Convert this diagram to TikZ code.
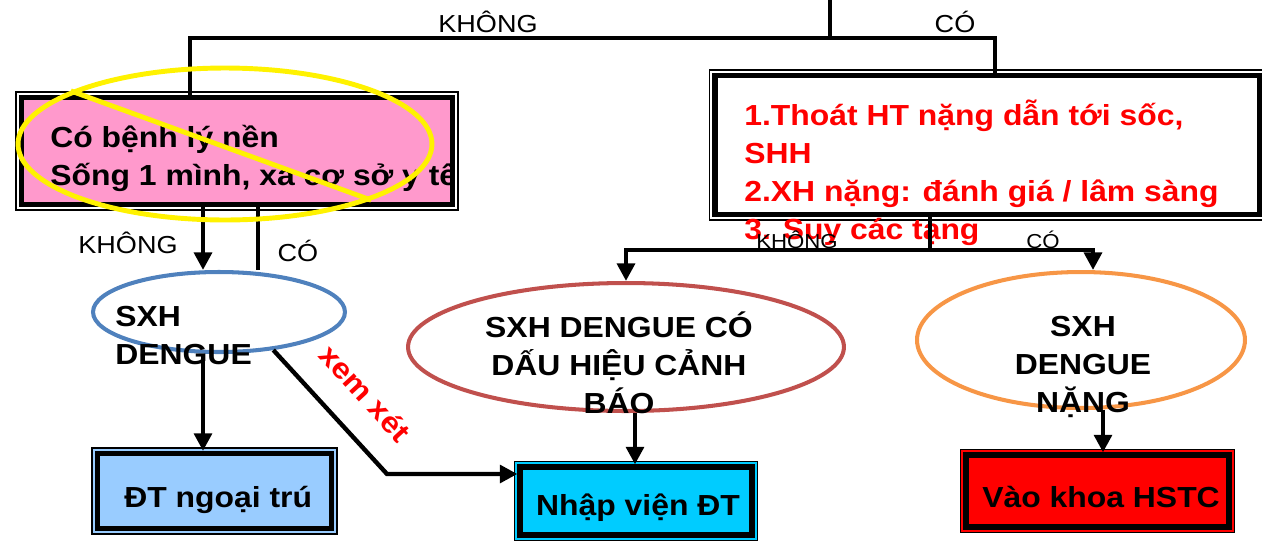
\documentclass[tikz,border=0pt]{standalone}
\usepackage{fontspec}
\setmainfont{Liberation Sans}[FakeStretch=1.10]
\usepackage{xcolor}
\usetikzlibrary{shapes.geometric,arrows.meta,positioning}

\definecolor{pinkfill}{RGB}{255,153,204}
\definecolor{skyfill}{RGB}{153,204,255}
\definecolor{cyanfill}{RGB}{0,204,255}
\definecolor{steel}{RGB}{79,129,189}
\definecolor{brick}{RGB}{192,80,77}
\definecolor{amber}{RGB}{247,150,70}

\begin{document}
\begin{tikzpicture}[x=0.02cm, y=-0.02cm,
  every node/.style={inner sep=0pt},
  big/.style={font=\fontsize{16.5}{21.5}\selectfont\bfseries},
  lbl/.style={font=\fontsize{14}{16}\selectfont},
  slbl/.style={font=\fontsize{11.5}{13}\selectfont},
  frame/.style={rectangle, draw=black, line width=3pt,
                preaction={draw=black, line width=6.9pt},
                preaction={draw=#1, line width=5.2pt}},   % thin outer rule + gap
  frame/.default=white,
  oval/.style={ellipse, draw=#1, line width=2.3pt},
  wire/.style={line width=2.5pt, black},
  arrow/.style={wire, -{Triangle[length=10pt,width=10pt]}},
]
\useasboundingbox (0,0) rectangle (1262,542);
\clip (0,0) rectangle (1262,542);

%% ── first split: risk factors / warning signs ───────────────────────
\node[frame, fill=pinkfill, minimum width=8.62cm, minimum height=2.14cm] (risk) at (237,151) {};
\node[frame, fill=white, minimum width=10.9cm, minimum height=2.79cm] (warn) at (987.5,145) {};

% multi-line texts: base = baseline of the last line
\begin{scope}
  \clip ([shift={(1.5pt,1.5pt)}]risk.south west) rectangle ([shift={(-1.5pt,-1.5pt)}]risk.north east);
  \node[big, anchor=base west, align=left] (riskText) at (50,185)
    {Có bệnh lý nền\\Sống 1 mình, xa cơ sở y tế};
\end{scope}
\node[big, red, anchor=base west, align=left] (warnText) at (744,239)
  {1.Thoát HT nặng dẫn tới sốc,\\SHH\\2.XH nặng: đánh giá / lâm sàng\\3. Suy các tạng};

%% ── diagnoses ───────────────────────────────────────────────────────
\node[oval=steel, minimum width=5.04cm, minimum height=1.6cm] (dengue) at (219,312) {};
\node[oval=brick, minimum width=8.72cm, minimum height=2.56cm] (warnsign) at (626,347) {};
\node[oval=amber, minimum width=6.56cm, minimum height=2.72cm] (severe) at (1081,340) {};

\node[big, anchor=base west, align=left] (dengueText) at (115,364) {SXH\\DENGUE};
\node[big, anchor=base, align=center] (warnsignText) at (619,413)
  {SXH DENGUE CÓ\\DẤU HIỆU CẢNH\\BÁO};
\node[big, anchor=base, align=center] (severeText) at (1083,412) {SXH\\DENGUE\\NẶNG};

%% ── treatment ───────────────────────────────────────────────────────
\node[frame=skyfill, fill=skyfill, minimum width=4.68cm, minimum height=1.5cm] (outpt) at (214.5,491) {};
\node[frame=cyanfill, fill=cyanfill, minimum width=4.64cm, minimum height=1.36cm] (admit) at (636,501) {};
\node[frame=red, fill=red, minimum width=5.26cm, minimum height=1.44cm] (icu) at (1097.5,491) {};

\node[big, anchor=base west] (outptText) at (124,507) {ĐT ngoại trú};
\node[big, anchor=base] (admitText) at (638,515) {Nhập viện ĐT};
\node[big, anchor=base west] (icuText) at (982,507) {Vào khoa HSTC};

%% ── branch labels ───────────────────────────────────────────────────
\node[lbl, anchor=base] (noTop) at (488,32) {KHÔNG};
\node[lbl, anchor=base] (yesTop) at (955,32) {CÓ};
\node[lbl, anchor=base] (noRisk) at (128,253) {KHÔNG};
\node[lbl, anchor=base] (yesRisk) at (298,261) {CÓ};
\node[slbl, anchor=base] (noWarn) at (797,248) {KHÔNG};
\node[slbl, anchor=base] (yesWarn) at (1043,248) {CÓ};

%% ── connectors ──────────────────────────────────────────────────────
\coordinate (root) at (830,0);
\coordinate (fork) at (830,38);
\coordinate (forkL) at (190,38);
\coordinate (forkR) at (995,38);
\draw[wire] (root) -- (fork);
\draw[wire] (forkL |- risk.north) |- (forkR) -- (forkR |- warn.north);

\coordinate (xno) at (203,0);
\coordinate (xyes) at (258,0);
\draw[arrow] (risk.south -| xno) -- (xno |- dengue.north);
\draw[wire] (risk.south -| xyes) -- (xyes |- dengue.north);

\coordinate (split) at (930,250);
\coordinate (xsev) at (1093,0);
\draw[wire] (warn.south -| split) -- (split);
\draw[arrow] (split) -| (warnsign.north);
\draw[arrow] (split) -| (xsev |- severe.north);

\draw[arrow] (xno |- dengue.south) -- (xno |- outpt.north);
\coordinate (bend) at (387,474);
\draw[arrow] (dengue.-35) -- node[pos=0.56, sloped, above=0.52cm, big, red] (review) {xem xét}
  (bend) -- (bend -| admit.west);

\coordinate (xadm) at (635,0);
\coordinate (xicu) at (1103,0);
\draw[arrow] (xadm |- warnsign.south) -- (xadm |- admit.north);
\draw[arrow] (xicu |- severe.south) -- (xicu |- icu.north);

%% ── crossed-out branch ──────────────────────────────────────────────
\node[oval=yellow, line width=2.8pt, minimum width=8.28cm, minimum height=3.04cm] (veto) at (225,144) {};
\draw[yellow, line width=2.8pt] (veto.161) -- (veto.-21);

\end{tikzpicture}
\end{document}
